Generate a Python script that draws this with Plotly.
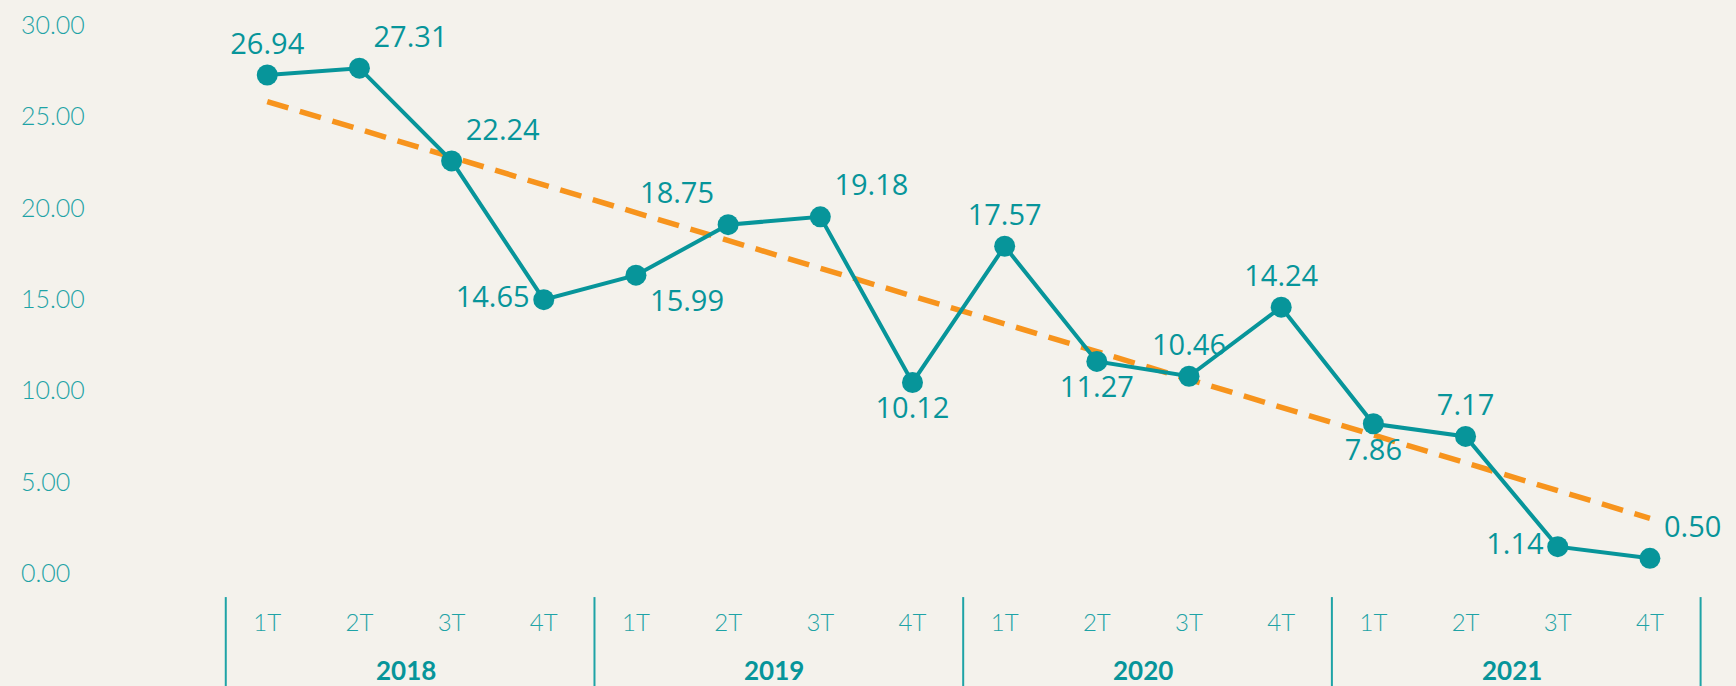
import numpy as np
import plotly.graph_objects as go

# ---- data ----
years = ["2018", "2019", "2020", "2021"]
quarters = ["1T", "2T", "3T", "4T"]
values = [26.94, 27.31, 22.24, 14.65,
          15.99, 18.75, 19.18, 10.12,
          17.57, 11.27, 10.46, 14.24,
          7.86, 7.17, 1.14, 0.50]
y_ticks = [0, 5, 10, 15, 20, 25, 30]
label_pos = ["top center", "top right", "top right", "middle left",
             "bottom right", "top left", "top right", "bottom center",
             "top center", "bottom center", "top center", "top center",
             "bottom center", "top center", "middle left", "top right"]

# ---- style ----
TEAL = "#07959a"
TEAL_LIGHT = "#1ea3a6"
ORANGE = "#f7941d"
BG = "#f4f2ec"

idx = np.arange(len(values))
tick_text = [q for _ in years for q in quarters]

# linear trend
slope, intercept = np.polyfit(idx, values, 1)
trend = slope * idx + intercept

fig = go.Figure()
fig.add_trace(go.Scatter(
    x=idx, y=trend, mode="lines",
    line=dict(color=ORANGE, width=5.5, dash="22px,12px"),
    hoverinfo="skip", showlegend=False))
fig.add_trace(go.Scatter(
    x=idx, y=values, mode="lines+markers+text",
    line=dict(color=TEAL, width=4),
    marker=dict(color=TEAL, size=21),
    text=[f"{v:.2f}" for v in values],
    textposition=label_pos,
    textfont=dict(family="Open Sans", size=29, color=TEAL),
    showlegend=False))

# group separators and year labels
n_q = len(quarters)
for k in range(len(years) + 1):
    fig.add_shape(type="line", xref="x", yref="paper",
                  x0=k * n_q - 0.45, x1=k * n_q - 0.45, y0=-0.012, y1=-0.165,
                  line=dict(color=TEAL_LIGHT, width=2))
for k, yr in enumerate(years):
    fig.add_annotation(x=k * n_q + (n_q - 1) / 2, y=-0.136, xref="x", yref="paper",
                       text=f"<b>{yr}</b>", showarrow=False, yanchor="middle",
                       font=dict(family="Lato", size=26, color=TEAL))

fig.update_layout(
    width=1736, height=686,
    margin=dict(l=18, r=0, t=0, b=96),
    paper_bgcolor=BG, plot_bgcolor=BG,
    xaxis=dict(range=[-2.704, 15.934], showgrid=False, zeroline=False,
               showline=False, tickmode="array", tickvals=idx, ticktext=tick_text,
               ticks="", ticklabelstandoff=16,
               tickfont=dict(family="Lato", size=24, color=TEAL_LIGHT, weight=300)),
    yaxis=dict(range=[-1.231, 31.04], showgrid=False, zeroline=False,
               showline=False, tickmode="array", tickvals=y_ticks,
               tickformat=".2f", ticks="", ticklabelposition="inside",
               ticklabeloverflow="allow", ticklabelshift=6,
               tickfont=dict(family="Lato", size=25, color=TEAL_LIGHT, weight=300)),
)

fig.write_html("out.html", config={"displayModeBar": False},
               post_script="document.body.style.margin='0';document.body.style.overflow='hidden';")
